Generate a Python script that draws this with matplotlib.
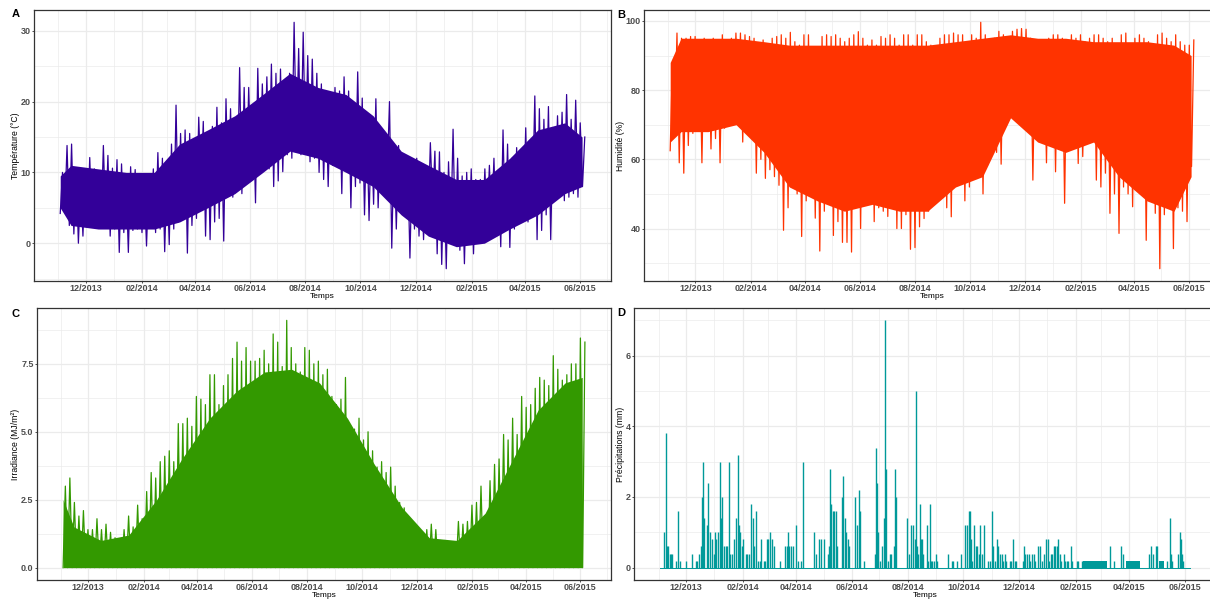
import numpy as np
import pandas as pd
import matplotlib
matplotlib.use('Agg')
import matplotlib.pyplot as plt
import matplotlib.dates as mdates

plt.rcParams['font.family'] = ['Liberation Sans', 'DejaVu Sans']
plt.rcParams['font.weight'] = 'bold'

# 5-day bins starting 2013-11-03: (low, high) extremes
start = pd.Timestamp('2013-11-03')
step_days = 5

temp_hi = [10.0, 13.8, 14.0, 10.5, 8.5, 9.5,
           12.1, 10.5, 10.2, 13.8, 12.4, 10.6,
           11.8, 11.2, 9.0, 10.8, 10.4, 8.5,
           8.6, 8.8, 10.5, 12.8, 12.0, 10.0,
           14.0, 19.5, 15.5, 16.0, 15.5, 11.5,
           17.8, 17.2, 15.5, 16.5, 19.2, 17.0,
           20.4, 19.0, 17.0, 24.8, 22.0, 22.0,
           19.0, 24.7, 22.5, 23.5, 25.3, 24.0,
           24.6, 22.0, 24.0, 31.2, 27.5, 29.8,
           26.5, 26.0, 24.0, 22.5, 20.5, 20.0,
           22.0, 21.5, 23.5, 21.5, 20.0, 24.2,
           20.5, 17.5, 16.5, 20.4, 15.5, 15.0,
           20.0, 14.0, 13.8, 11.5, 12.0, 11.5,
           12.0, 9.5, 9.0, 14.2, 13.0, 12.9,
           10.0, 11.5, 16.1, 12.0, 9.5, 10.0,
           10.5, 9.0, 9.0, 10.5, 11.0, 12.0,
           10.0, 16.0, 14.0, 12.0, 13.5, 13.0,
           16.3, 14.0, 20.8, 19.0, 17.5, 19.3,
           15.5, 18.0, 18.5, 21.0, 17.5, 20.2,
           17.0, 15.0]
temp_lo = [4.2, 4.5, 2.5, 1.3, 0.0, 1.0,
           2.5, 2.5, 3.0, 2.5, 3.2, 1.0,
           2.0, -1.3, 1.5, -1.3, 1.8, 2.0,
           1.5, -0.4, 2.5, 1.5, 2.0, -1.2,
           -0.2, 2.0, 3.0, 4.0, -1.4, 2.5,
           3.5, 7.8, 1.0, 0.5, 3.0, 3.5,
           0.3, 7.0, 6.5, 7.5, 7.0, 8.5,
           10.5, 5.7, 10.0, 11.5, 10.5, 8.0,
           8.8, 10.1, 12.5, 12.0, 14.0, 12.5,
           13.0, 11.5, 12.0, 10.0, 9.0, 8.0,
           11.0, 12.5, 7.0, 10.5, 5.0, 8.0,
           8.5, 4.0, 3.2, 5.5, 5.0, 7.5,
           9.5, -0.7, 2.0, 4.5, 5.0, -2.1,
           2.0, 1.0, 0.5, 3.0, 5.5, -1.5,
           -3.0, -3.6, 1.5, 0.5, -1.0, -2.9,
           0.0, -1.5, 0.3, 2.0, 2.5, 3.0,
           1.0, -0.5, 2.0, -0.6, 2.0, 3.5,
           4.0, 3.0, 6.0, 0.5, 1.8, 4.0,
           0.5, 6.5, 7.0, 6.0, 6.5, 7.0,
           6.5, 8.0]

hum_hi = [88, 96.5, 95, 95, 95.5, 95.5,
          94, 95, 93, 95, 94, 96,
          93.5, 95, 96.5, 96.5, 96, 95.5,
          95, 92, 94.5, 93, 95, 95.5,
          96, 95, 96.7, 94, 93, 96,
          96, 88, 90, 95.5, 96, 95.5,
          96, 95, 94, 95, 96, 96.9,
          95, 93, 94.5, 93, 95.5, 95,
          96, 95, 93, 96, 96, 93,
          96, 96, 94, 93, 92, 95,
          96, 96, 96.5, 96, 96, 93,
          96, 95, 99.6, 96, 93, 95,
          97, 96, 95, 97, 97.6, 97.8,
          97.6, 95, 94, 93, 92, 95,
          96, 96, 95, 93, 96, 95,
          96, 94, 95, 96, 96, 95,
          94, 95, 93, 96, 96.5, 93,
          95, 96, 95, 94, 93, 96,
          96.5, 95, 94, 96, 94, 93,
          93, 94.5]
hum_lo = [62.5, 70, 59, 56, 64, 67.5,
          73, 59, 72, 63, 66, 59,
          69, 74, 73, 76, 65, 74,
          69, 56, 60, 54.5, 57, 55,
          52.5, 39.5, 46, 54, 50, 37.7,
          48, 57, 43, 33.5, 45, 55,
          38, 42, 36, 36, 33.2, 50,
          40, 48, 50, 42, 46, 45,
          43.5, 47, 40, 40, 44, 34,
          34.5, 40.5, 42.9, 45, 48, 52,
          50.6, 46, 43.4, 53, 55, 48,
          52, 55, 60, 50, 58.3, 66,
          62, 58.6, 70, 75, 78, 80.5,
          81, 69, 54, 70, 72, 59,
          65, 56.4, 65, 47.3, 72.8, 66,
          58.8, 60.8, 68, 65.6, 54, 52,
          56, 44.4, 50, 38.6, 52, 50,
          46.3, 55, 58, 36.6, 49, 44.4,
          28.4, 44, 50, 34.2, 46, 45,
          42, 57.9]

irr_peak = [3.0, 3.3, 2.4, 1.9, 2.1, 1.4,
            1.4, 1.8, 1.4, 1.6, 1.3, 1.1,
            1.0, 1.4, 1.9, 1.5, 2.3, 1.8,
            2.8, 3.5, 3.3, 3.9, 4.1, 4.3,
            3.9, 5.3, 5.3, 5.5, 5.2, 6.3,
            6.2, 6.0, 7.1, 7.1, 6.0, 6.7,
            7.1, 7.7, 8.3, 7.6, 8.1, 7.6,
            7.6, 7.7, 8.0, 7.5, 8.6, 8.3,
            7.4, 9.1, 8.1, 7.5, 7.2, 8.1,
            8.0, 7.5, 7.6, 7.1, 7.3, 6.3,
            6.0, 6.2, 7.0, 5.2, 5.1, 5.5,
            4.7, 5.0, 4.3, 3.7, 3.9, 3.5,
            3.7, 3.0, 2.4, 2.2, 1.5, 1.4,
            1.4, 1.3, 1.4, 1.6, 1.4, 1.0,
            1.0, 0.9, 0.9, 1.7, 1.6, 1.7,
            2.3, 2.4, 3.0, 1.8, 3.2, 3.8,
            4.0, 4.9, 4.7, 5.5, 4.9, 6.3,
            5.9, 6.0, 6.6, 7.0, 6.9, 6.7,
            7.8, 7.3, 6.9, 7.1, 7.5, 7.5,
            8.45, 8.3]

# dense core of each series, read roughly once a month
core_dates = ['2013-11-03', '2013-11-15', '2013-12-15', '2014-01-15', '2014-02-15',
              '2014-03-15', '2014-04-15', '2014-05-15', '2014-06-15', '2014-07-15',
              '2014-08-15', '2014-09-15', '2014-10-15', '2014-11-15', '2014-12-15',
              '2015-01-15', '2015-02-15', '2015-03-15', '2015-04-15', '2015-05-15',
              '2015-06-03']
temp_core_lo = [5, 2.5, 2, 2, 2, 3, 5, 7, 10, 13, 12, 10, 8, 4, 1,
                -0.5, 0, 2, 4, 7, 8]
temp_core_hi = [9.5, 11, 10.5, 10, 10, 14, 16, 18, 21, 24, 22, 21, 18, 13, 11,
                9, 9, 12, 16, 17, 15]
hum_core_lo = [65, 68, 68, 70, 62, 52, 48, 45, 47, 45, 45, 52, 55, 72, 65,
               62, 65, 55, 48, 45, 55]
hum_core_hi = [88, 95, 95, 95, 94, 93, 93, 93, 93, 93, 93, 94, 95, 96, 95,
               95, 94, 94, 94, 93, 90]
irr_core_hi = [2.5, 1.5, 1.0, 1.2, 2.5, 4.0, 5.5, 6.5, 7.2, 7.3, 6.8, 5.5, 3.8,
               2.2, 1.1, 1.0, 2.0, 3.8, 5.8, 6.8, 7.0]

# rain events: days since 2013-12-01 and amount (mm)
rain_day = [-24.0, -22.2, -21.1, -20.1, -17.6, -16.1, -15.1, -11.5, -9.0, -6.8,
            0.4, 6.5, 11.1, 12.5, 14.7, 16.1, 17.2, 19.0, 20.1, 22.6,
            24.4, 26.2, 28.0, 30.5, 31.9, 33.3, 35.1, 37.3, 38.7, 39.8,
            41.2, 43.4, 44.8, 47.3, 48.4, 50.5, 53.0, 54.5, 56.6, 58.4,
            59.5, 61.3, 62.7, 65.6, 67.4, 69.2, 71.0, 73.5, 74.9, 76.3,
            78.5, 80.6, 82.4, 85.3, 87.1, 88.9, 90.0, 92.1, 94.3, 96.1,
            102.9, 108.6, 110.4, 112.2, 113.3, 115.1, 116.8, 121.1, 122.9, 125.8,
            128.0, 140.1, 142.7, 146.2, 148.0, 151.6, 155.2, 156.6, 158.1, 159.5,
            160.9, 162.4, 164.2, 165.9, 171.3, 172.4, 173.8, 175.3, 177.8, 179.2,
            184.9, 187.5, 189.2, 190.3, 194.6, 207.2, 208.2, 209.7, 210.8, 212.5,
            215.4, 217.2, 218.6, 219.7, 221.5, 223.3, 225.1, 228.3, 229.4, 230.5,
            241.9, 244.1, 246.6, 248.4, 250.5, 251.6, 253.4, 254.5, 256.3, 257.3,
            258.8, 259.8, 263.8, 265.2, 267.0, 268.1, 269.9, 271.7, 273.8, 275.3,
            287.4, 291.4, 293.2, 296.8, 301.8, 306.4, 308.2, 309.7, 311.1, 312.5,
            314.0, 315.8, 317.6, 319.0, 320.8, 322.6, 324.0, 326.5, 331.5, 333.3,
            335.5, 336.9, 338.7, 340.5, 342.3, 344.1, 345.9, 347.7, 349.5, 351.2,
            354.8, 356.6, 358.4, 360.2, 362.0, 369.2, 370.2, 372.0, 373.8, 375.6,
            377.4, 379.2, 381.0, 382.8, 386.4, 388.2, 390.7, 392.8, 394.3, 396.4,
            397.8, 399.6, 401.4, 403.2, 405.0, 406.8, 408.2, 410.0, 411.5, 414.0,
            415.8, 417.6, 419.3, 421.9, 423.6, 428.3, 430.1, 433.7, 464.9, 469.5,
            477.4, 479.6, 507.2, 510.0, 511.5, 515.0, 516.8, 527.6, 530.5, 531.9,
            533.3, 539.8, 541.2, 542.3, 543.4, 544.8]
rain_mm = [1.0, 3.8, 0.6, 0.6, 0.4, 0.4, 0.4, 0.2, 1.6, 0.2,
           0.2, 0.4, 0.2, 0.2, 0.4, 0.6, 2.0, 3.0, 1.4, 1.2,
           2.4, 1.0, 0.8, 0.4, 1.0, 0.8, 1.0, 3.0, 1.4, 2.0,
           0.6, 0.6, 0.6, 3.0, 0.4, 0.4, 0.8, 1.4, 3.2, 1.2,
           1.0, 0.6, 0.8, 0.4, 0.4, 0.4, 1.8, 1.4, 0.6, 1.6,
           0.2, 0.2, 0.8, 0.2, 0.2, 0.8, 0.8, 1.0, 0.8, 0.6,
           0.2, 0.6, 0.6, 1.0, 0.6, 0.6, 0.6, 1.2, 0.2, 0.2,
           3.0, 1.0, 0.4, 0.8, 0.8, 0.8, 0.4, 0.6, 2.8, 1.8,
           1.6, 1.6, 1.6, 0.6, 2.0, 2.6, 1.4, 1.0, 0.8, 0.6,
           2.0, 1.2, 2.2, 1.6, 0.2, 0.4, 3.4, 2.4, 1.0, 0.2,
           0.6, 1.4, 7.0, 2.8, 0.2, 0.4, 0.4, 0.6, 2.8, 2.0,
           1.4, 0.4, 1.2, 1.2, 0.8, 5.0, 0.6, 0.4, 1.8, 0.8,
           0.8, 0.4, 1.2, 0.2, 1.8, 0.2, 0.2, 0.2, 0.4, 0.2,
           0.4, 0.2, 0.2, 0.2, 0.4, 1.2, 1.2, 1.6, 1.6, 0.8,
           0.2, 1.2, 0.6, 0.6, 0.4, 1.2, 0.4, 1.2, 0.2, 0.2,
           1.6, 0.6, 0.2, 0.8, 0.6, 0.4, 0.4, 0.2, 0.4, 0.2,
           0.2, 0.2, 0.8, 0.2, 0.2, 0.2, 0.6, 0.4, 0.4, 0.4,
           0.2, 0.4, 0.4, 0.2, 0.6, 0.6, 0.2, 0.4, 0.8, 0.8,
           0.2, 0.4, 0.4, 0.6, 0.6, 0.6, 0.8, 0.4, 0.2, 0.4,
           0.2, 0.2, 0.2, 0.6, 0.2, 0.2, 0.2, 0.2, 0.6, 0.2,
           0.6, 0.4, 0.4, 0.6, 0.4, 0.6, 0.6, 0.2, 1.4, 0.4,
           0.2, 0.4, 1.0, 0.8, 0.4, 0.2]
# stretches of continuous light drizzle (days since 2013-12-01)
drizzle_from = [435.5, 482.0, 518.6]
drizzle_to = [461.7, 498.2, 524.0]
drizzle_mm = [0.2, 0.2, 0.2]

col_temp = '#330099'
col_hum = '#FF3300'
col_irr = '#339900'
col_rain = '#009999'

n_bins = len(temp_hi)
step = step_days * 577.5 / 575
t_lo = start + pd.to_timedelta(np.arange(n_bins) * step, unit='D')
t_hi = t_lo + pd.Timedelta(days=step / 2)
t_core = pd.to_datetime(core_dates)


def series(ax, lo, hi, core_lo, core_hi, color):
    # solid core plus a line swinging out to the extremes of each bin
    ax.fill_between(t_core, core_lo, core_hi, color=color, lw=0)
    t = np.empty(2 * n_bins, dtype='datetime64[ns]')
    t[0::2] = t_lo.values
    t[1::2] = t_hi.values
    v = np.empty(2 * n_bins)
    v[0::2] = lo
    v[1::2] = hi
    ax.plot(t, v, color=color, lw=0.9)


W, H = 1210, 601
fig = plt.figure(figsize=(W / 100, H / 100), dpi=100)


def add_ax(l, t, r, b):
    return fig.add_axes([l / W, 1 - b / H, (r - l) / W, (b - t) / H])


axA = add_ax(34, 10, 611, 281)
axB = add_ax(644, 10, 1220, 281)
axC = add_ax(37, 308, 611, 580)
axD = add_ax(634, 308, 1216, 580)

t_first = t_lo[0]
t_last = t_hi[-1]
span = (t_last - t_first) / pd.Timedelta(days=1)
xlo = mdates.date2num(t_first - pd.Timedelta(days=0.05 * span))
xhi = mdates.date2num(t_last + pd.Timedelta(days=0.05 * span))

series(axA, temp_lo, temp_hi, temp_core_lo, temp_core_hi, col_temp)
series(axB, hum_lo, hum_hi, hum_core_lo, hum_core_hi, col_hum)
series(axC, np.zeros(n_bins), irr_peak, np.zeros(len(irr_core_hi)), irr_core_hi, col_irr)

# D: precipitation
ref = pd.Timestamp('2013-12-01')
rain_t = ref + pd.to_timedelta(np.array(rain_day), unit='D')
axD.plot([t_first, t_last], [0, 0], color=col_rain, lw=0.7)
axD.vlines(rain_t, 0, rain_mm, color=col_rain, lw=1.0)
for a, b, m in zip(drizzle_from, drizzle_to, drizzle_mm):
    axD.fill_between([ref + pd.Timedelta(days=a), ref + pd.Timedelta(days=b)],
                     0, m, color=col_rain, lw=0)

panels = [
    (axA, 'Température (°C)', temp_lo + temp_hi, [0, 10, 20, 30], [-5, 5, 15, 25], None),
    (axB, 'Humidité (%)', hum_lo + hum_hi, [40, 60, 80, 100], [30, 50, 70, 90], None),
    (axC, 'Irradiance (MJ/m²)', [0] + irr_peak, [0, 2.5, 5, 7.5], [1.25, 3.75, 6.25, 8.75],
     ['0.0', '2.5', '5.0', '7.5']),
    (axD, 'Précipitations (mm)', [0] + rain_mm, [0, 2, 4, 6], [1, 3, 5, 7], None),
]

for ax, ylab, vals, major, minor, labels in panels:
    lo, hi = min(vals), max(vals)
    pad = 0.05 * (hi - lo)
    ax.set_ylim(lo - pad, hi + pad)
    ax.set_xlim(xlo, xhi)
    ax.set_yticks(major)
    ax.set_yticks(minor, minor=True)
    if labels:
        ax.set_yticklabels(labels)
    ax.xaxis.set_major_locator(mdates.MonthLocator(bymonth=[12, 2, 4, 6, 8, 10]))
    ax.xaxis.set_minor_locator(mdates.MonthLocator(bymonth=[1, 3, 5, 7, 9, 11]))
    ax.xaxis.set_major_formatter(mdates.DateFormatter('%m/%Y'))
    ax.set_axisbelow(True)
    ax.grid(which='major', color='#EBEBEB', lw=0.9)
    ax.grid(which='minor', color='#EBEBEB', lw=0.5)
    for s in ax.spines.values():
        s.set_color('#333333')
        s.set_linewidth(0.9)
    ax.tick_params(which='major', length=1.7, width=0.6, color='#333333',
                   labelsize=6.5, labelcolor='#4D4D4D', pad=0.8)
    ax.tick_params(which='minor', length=0)
    ax.set_xlabel('Temps', fontsize=6.0, fontweight='normal', labelpad=0)
    ax.set_ylabel(ylab, fontsize=6.2, fontweight='normal', labelpad=0.5)

fig.text(12 / W, 1 - 14 / H, 'A', fontsize=8, fontweight='bold', va='center')
fig.text(617 / W, 1 - 15 / H, 'B', fontsize=8, fontweight='bold', va='center')
fig.text(12 / W, 1 - 314 / H, 'C', fontsize=8, fontweight='bold', va='center')
fig.text(617 / W, 1 - 313 / H, 'D', fontsize=8, fontweight='bold', va='center')

fig.savefig('out.png', dpi=100)
